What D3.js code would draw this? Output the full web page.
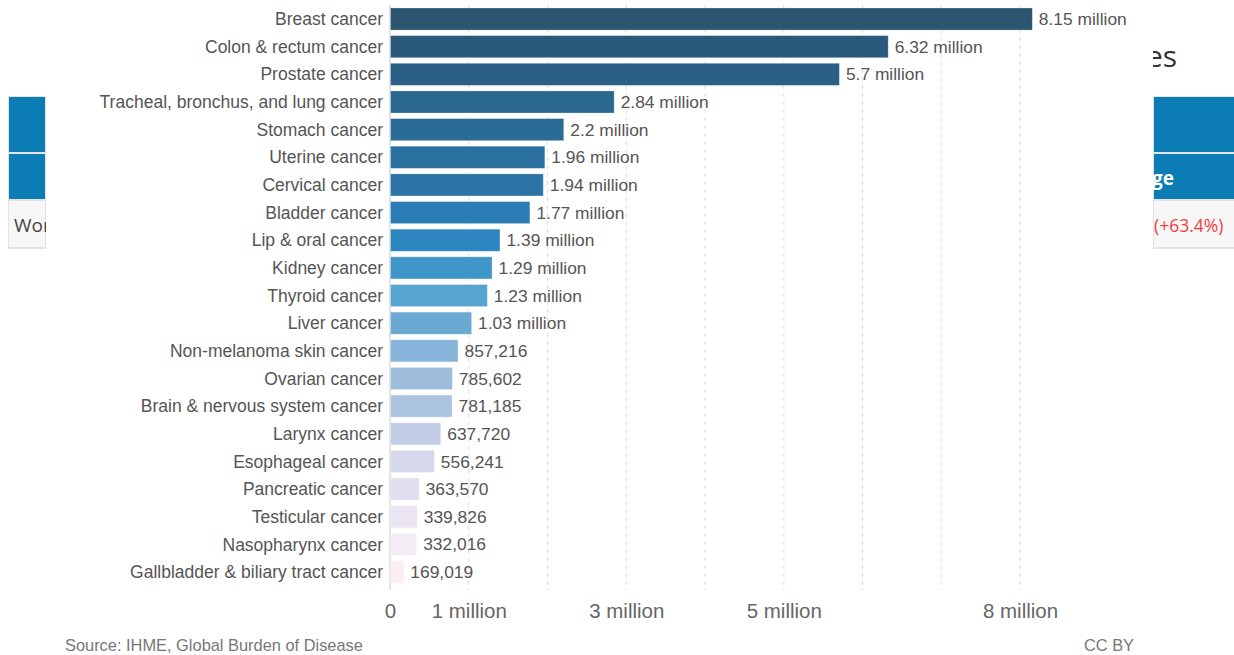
<!DOCTYPE html>
<html>
<head>
<meta charset="utf-8">
<script src="https://cdn.jsdelivr.net/npm/d3@7"></script>
<style>
  html, body { margin: 0; padding: 0; background: #fff; }
  svg { display: block; font-family: "Liberation Sans", Arial, sans-serif; }
</style>
</head>
<body>
<svg id="chart"></svg>
<script>
// data
var categories = [
  "Breast cancer", "Colon & rectum cancer", "Prostate cancer",
  "Tracheal, bronchus, and lung cancer", "Stomach cancer", "Uterine cancer",
  "Cervical cancer", "Bladder cancer", "Lip & oral cancer", "Kidney cancer",
  "Thyroid cancer", "Liver cancer", "Non-melanoma skin cancer", "Ovarian cancer",
  "Brain & nervous system cancer", "Larynx cancer", "Esophageal cancer",
  "Pancreatic cancer", "Testicular cancer", "Nasopharynx cancer",
  "Gallbladder & biliary tract cancer"
];
var values = [
  8150000, 6320000, 5700000, 2840000, 2200000, 1960000, 1940000, 1770000,
  1390000, 1290000, 1230000, 1030000, 857216, 785602, 781185, 637720,
  556241, 363570, 339826, 332016, 169019
];
var tickValues = [0, 1e6, 2e6, 3e6, 4e6, 5e6, 6e6, 7e6, 8e6];
var tickLabels = ["0", "1 million", "", "3 million", "", "5 million", "", "", "8 million"];

// colour ramp, dark to light
var palette = [
  "#2b5570", "#2a5a7b", "#2b5f85", "#2b688f", "#2b6c97", "#2b71a0", "#2c74a6",
  "#2c7db6", "#2e86c1", "#3f96c9", "#56a5d0", "#6aa9d2", "#86b4da", "#9ebcdc",
  "#adc4e1", "#c2cde6", "#d5d7ea", "#e0dff0", "#ebe5f3", "#f3ecf5", "#fcedf0"
];

var W = 1234, H = 655;
var svg = d3.select("#chart").attr("width", W).attr("height", H);

// bits of the page behind the chart
var bg = svg.append("g").attr("id", "background");
function tableSide(x0, x1) {
  bg.append("rect").attr("x", x0).attr("y", 96).attr("width", x1 - x0).attr("height", 153)
    .attr("fill", "#e3e3e3");
  bg.append("rect").attr("x", x0 + 1).attr("y", 97).attr("width", x1 - x0 - 2).attr("height", 55)
    .attr("fill", "#0c7db4");
  bg.append("rect").attr("x", x0 + 1).attr("y", 154).attr("width", x1 - x0 - 2).attr("height", 45)
    .attr("fill", "#0c7db4");
  bg.append("rect").attr("x", x0 + 1).attr("y", 201).attr("width", x1 - x0 - 2).attr("height", 46)
    .attr("fill", "#f7f7f7");
}
tableSide(8, 46);
tableSide(1153, 1236);
bg.append("text").attr("x", 14).attr("y", 232).attr("font-family", "Open Sans, sans-serif")
  .attr("font-size", 19).attr("fill", "#444").text("World");
bg.append("text").attr("x", 1146).attr("y", 67).attr("font-family", "Open Sans, sans-serif")
  .attr("font-size", 30).attr("fill", "#333").text("es");
bg.append("text").attr("x", 1128).attr("y", 185).attr("font-family", "Open Sans, sans-serif")
  .attr("font-size", 19).attr("font-weight", "bold").attr("fill", "#fff").text("ange");
bg.append("text").attr("x", 1154).attr("y", 232).attr("font-family", "Open Sans, sans-serif")
  .attr("font-size", 17.5).attr("fill", "#f23f3f").text("(+63.4%)");

// white chart panel over the middle
svg.append("rect").attr("x", 46).attr("y", 0).attr("width", 1107).attr("height", H).attr("fill", "#fff");

// scales
var x = d3.scaleLinear().domain([0, 8e6]).range([390, 1020]);
var y = d3.scaleBand().domain(categories).range([5.2, 585.85]).paddingInner(0.2).paddingOuter(0.1);

// gridlines
svg.append("g").selectAll("line")
  .data(tickValues.slice(1))
  .join("line")
  .attr("x1", d => x(d)).attr("x2", d => x(d))
  .attr("y1", 5).attr("y2", 590)
  .attr("stroke", "#dcdcdc").attr("stroke-dasharray", "4,4");

svg.append("line")
  .attr("x1", x(0)).attr("x2", x(0)).attr("y1", 5).attr("y2", 590)
  .attr("stroke", "#c8c8c8");

// bars
svg.append("g").selectAll("rect")
  .data(values)
  .join("rect")
  .attr("x", x(0) + 0.5)
  .attr("y", (d, i) => y(categories[i]))
  .attr("width", d => x(d) - x(0))
  .attr("height", y.bandwidth())
  .attr("fill", (d, i) => palette[i])
  .attr("stroke", "#ffffff").attr("stroke-opacity", 0.35).attr("stroke-width", 0.8);

// category labels
svg.append("g").selectAll("text")
  .data(categories)
  .join("text")
  .attr("x", 383)
  .attr("y", d => y(d) + y.bandwidth() / 2)
  .attr("dy", "0.35em")
  .attr("text-anchor", "end")
  .attr("font-size", 17.5)
  .attr("fill", "#555")
  .text(d => d);

// value labels
function fmt(v) {
  if (v >= 1e6) return d3.format(".3~")(Math.round(v / 1e4) / 100) + " million";
  return d3.format(",")(v);
}
svg.append("g").selectAll("text")
  .data(values)
  .join("text")
  .attr("x", d => x(d) + 7)
  .attr("y", (d, i) => y(categories[i]) + y.bandwidth() / 2)
  .attr("dy", "0.35em")
  .attr("font-size", 17.4)
  .attr("fill", "#555")
  .text(d => fmt(d));

// x axis labels
var xAxis = d3.axisBottom(x).tickValues(tickValues).tickSize(0)
  .tickFormat((d, i) => tickLabels[i]);
var gx = svg.append("g").attr("transform", "translate(0,603)").call(xAxis);
gx.select(".domain").remove();
gx.selectAll("text").attr("font-size", 20.5).attr("fill", "#666")
  .attr("font-family", "Liberation Sans, Arial, sans-serif").attr("dy", "0.75em").attr("y", 0);

// footer
svg.append("text").attr("x", 65).attr("y", 651).attr("font-size", 16.4).attr("fill", "#777")
  .text("Source: IHME, Global Burden of Disease");
svg.append("text").attr("x", 1134).attr("y", 651).attr("text-anchor", "end")
  .attr("font-size", 16.4).attr("fill", "#777").text("CC BY");
</script>
</body>
</html>
